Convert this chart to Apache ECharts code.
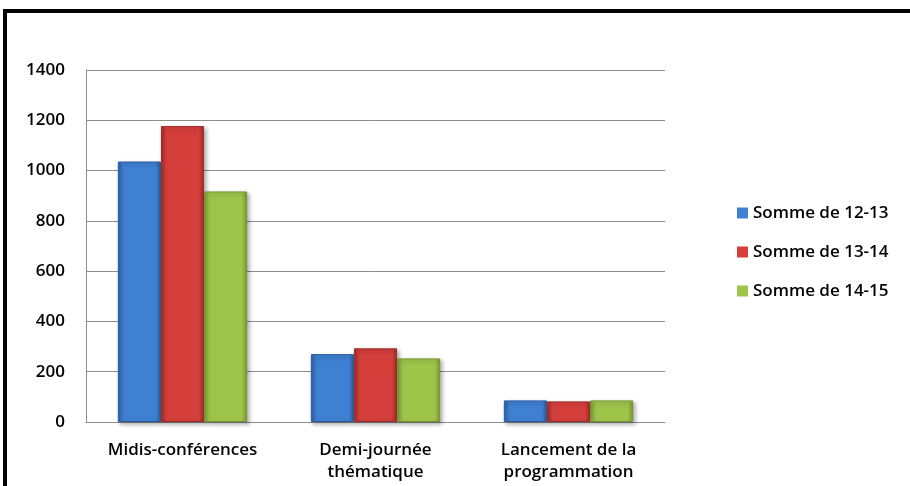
<!DOCTYPE html>
<html><head><meta charset="utf-8">
<script src="https://cdn.jsdelivr.net/npm/echarts@6/dist/echarts.min.js"></script>
<style>html,body{margin:0;padding:0;background:#fff}#c{width:910px;height:486px}</style>
</head><body><div id="c"></div>
<script>
const categories = ['Midis-conférences', 'Demi-journée\nthématique', 'Lancement de la\nprogrammation'];
const seriesNames = ['Somme de 12-13', 'Somme de 13-14', 'Somme de 14-15'];
const s1213 = [1036, 270, 86];
const s1314 = [1177, 293, 82];
const s1415 = [917, 253, 86];
const yTicks = [0, 200, 400, 600, 800, 1000, 1200, 1400];

const palette = [
  ['#2a5e9f', '#3f80d3', '#2a5e9f'],
  ['#9e2b29', '#d43f3c', '#9e2b29'],
  ['#789533', '#9ec44a', '#789533']
];
function grad(c) {
  return new echarts.graphic.LinearGradient(0, 0, 1, 0, [
    {offset: 0, color: c[0]}, {offset: 0.12, color: c[1]}, {offset: 0.88, color: c[1]}, {offset: 1, color: c[2]}
  ]);
}
const font = '"Open Sans", sans-serif';
const data = [s1213, s1314, s1415];
const chart = echarts.init(document.getElementById('c'), null, {renderer: 'canvas'});
chart.setOption({
  animation: false,
  backgroundColor: '#fff',
  graphic: [
    {type: 'rect', shape: {x: 5, y: 11, width: 1000, height: 1000}, style: {fill: 'none', stroke: '#000', lineWidth: 4}, z: 100}
  ],
  grid: {left: 86, top: 70, right: 245, bottom: 64, containLabel: false},
  legend: {
    orient: 'vertical', left: 732, top: 196, itemGap: 15, itemWidth: 11, itemHeight: 11, itemStyle: {borderWidth: 0},
    icon: 'rect',
    textStyle: {fontFamily: font, fontSize: 17, color: '#000', fontWeight: 600, lineHeight: 24},
    data: seriesNames.map((n, i) => ({name: n, itemStyle: {color: palette[i][1]}}))
  },
  xAxis: {
    type: 'category', data: categories,
    axisLine: {lineStyle: {color: '#8c8c8c'}},
    axisTick: {show: false},
    axisLabel: {interval: 0, fontFamily: font, fontSize: 17, fontWeight: 600, color: '#000', margin: 17, lineHeight: 22}
  },
  yAxis: {
    type: 'value', min: 0, max: 1400, interval: 200,
    axisLine: {show: true, lineStyle: {color: '#8c8c8c'}},
    axisTick: {show: false},
    splitLine: {lineStyle: {color: '#8c8c8c'}},
    axisLabel: {fontFamily: font, fontSize: 17, fontWeight: 600, color: '#000', margin: 21,
      formatter: v => yTicks.includes(v) ? String(v) : ''}
  },
  series: seriesNames.map((n, i) => ({
    name: n, type: 'bar', data: data[i], barGap: '0%', barCategoryGap: '33%',
    itemStyle: {color: grad(palette[i]), borderColor: palette[i][0], borderWidth: 1,
      shadowColor: 'rgba(0,0,0,0.3)', shadowBlur: 4, shadowOffsetX: 2, shadowOffsetY: 2}
  }))
});
</script></body></html>
